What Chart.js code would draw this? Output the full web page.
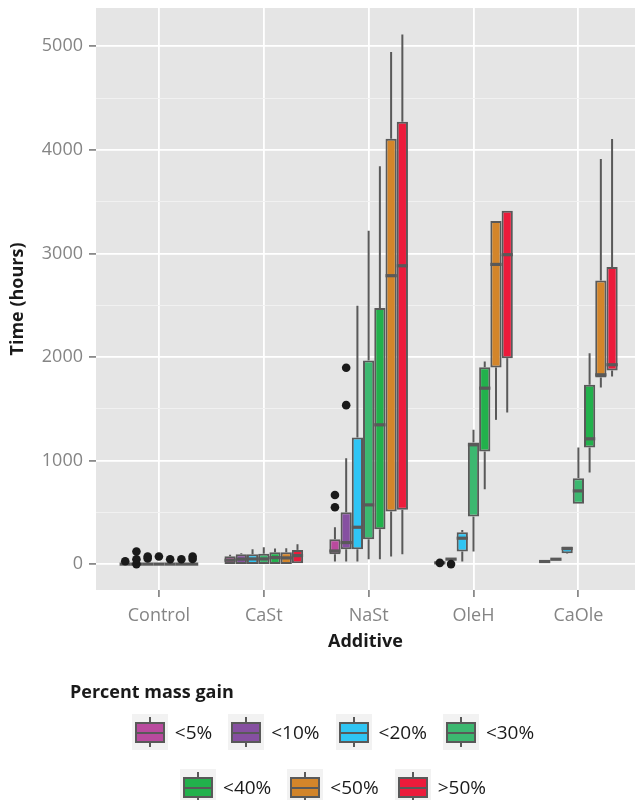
<!DOCTYPE html>
<html>
<head>
<meta charset="utf-8">
<script src="https://cdn.jsdelivr.net/npm/chart.js"></script>
<style>
  html, body { margin: 0; padding: 0; background: #fff; overflow: hidden; }
  #wrap { position: relative; width: 635px; height: 800px; font-family: "Open Sans", sans-serif; }
  #chart { position: absolute; left: 0; top: 0; }
  .legend-title { position: absolute; left: 70px; top: 679px; font-weight: 700; font-size: 18px; color: #1a1a1a; }
  .legend-row { position: absolute; left: 31px; width: 604px; display: flex; justify-content: center; gap: 16px; }
  .item { display: flex; align-items: center; }
  .key { position: relative; width: 36px; height: 36px; background: #f2f2f2; margin-right: 7px; }
  .key .whisker { position: absolute; left: 17px; top: 3px; width: 2px; height: 30px; background: #595959; }
  .key .box { position: absolute; left: 3px; top: 8px; width: 30px; height: 21px; box-sizing: border-box; border: 2px solid #595959; }
  .key .med { position: absolute; left: 3px; top: 17.5px; width: 30px; height: 2px; background: #595959; }
  .lab { font-size: 19px; color: #1a1a1a; }
</style>
</head>
<body>
<div id="wrap">
  <canvas id="chart" width="635" height="800"></canvas>
  <div class="legend-title">Percent mass gain</div>
  <div class="legend-row" id="row1" style="top:714px"></div>
  <div class="legend-row" id="row2" style="top:769px"></div>
</div>

<script>
/* ---------- DATA ---------- */
const additives = ['Control', 'CaSt', 'NaSt', 'OleH', 'CaOle'];
const massGain = ['<5%', '<10%', '<20%', '<30%', '<40%', '<50%', '>50%'];
const yTicks = [0, 1000, 2000, 3000, 4000, 5000];
const yMinorTicks = [500, 1500, 2500, 3500, 4500];

// rows follow massGain, columns follow additives (hours)
const whiskerLow = [
  [0, 0, 24, 8, 20],
  [0, 0, 24, 45, 42],
  [0, 0, 24, 24, 100],
  [0, 0, 47, 121, 582],
  [0, 0, 47, 724, 884],
  [0, 0, 73, 1393, 1706],
  [0, 9, 96, 1464, 1812]
];
const q1 = [
  [0, 2, 95, 8, 22],
  [0, 2, 144, 45, 44],
  [0, 2, 144, 121, 105],
  [0, 2, 240, 459, 582],
  [0, 2, 337, 1087, 1126],
  [0, 2, 507, 1899, 1802],
  [0, 9, 524, 1989, 1870]
];
const median = [
  [0, 38, 127, 12, 25],
  [0, 48, 208, 48, 47],
  [0, 50, 356, 250, 150],
  [0, 50, 572, 1152, 707],
  [0, 63, 1345, 1699, 1210],
  [0, 60, 2785, 2894, 1828],
  [0, 82, 2881, 2988, 1925]
];
const q3 = [
  [0, 76, 240, 18, 28],
  [0, 96, 501, 52, 50],
  [0, 96, 1222, 308, 169],
  [0, 100, 1966, 1174, 830],
  [0, 115, 2472, 1902, 1731],
  [0, 115, 4108, 3313, 2739],
  [0, 137, 4272, 3413, 2868]
];
const whiskerHigh = [
  [0, 90, 356, 18, 30],
  [0, 105, 1023, 55, 52],
  [0, 144, 2495, 330, 170],
  [0, 163, 3218, 1297, 1126],
  [0, 150, 3841, 1957, 2037],
  [0, 153, 4946, 3313, 3912],
  [0, 192, 5113, 3413, 4105]
];
const outliers = [
  [[28], [], [549, 668], [12], []],
  [[0, 47, 121], [], [1535, 1896], [0], []],
  [[55, 73], [], [], [], []],
  [[73], [], [], [], []],
  [[47], [], [], [], []],
  [[47], [], [], [], []],
  [[50, 73], [], [], [], []]
];

/* ---------- STYLE ---------- */
const boxColors = ['#b94a9e', '#8650a1', '#2fc5f4', '#3cb870', '#22b14c', '#d3852a', '#ec1b3b'];
const lineGrey = '#595959';
const tickGrey = '#858585';
const FONT = '"Open Sans", sans-serif';

Chart.defaults.font.family = FONT;

/* ---------- PLUGINS ---------- */
const panelBg = {
  id: 'panelBg',
  beforeDraw(chart) {
    const { ctx, chartArea: a } = chart;
    ctx.save();
    ctx.fillStyle = '#e5e5e5';
    ctx.fillRect(a.left, a.top, a.right - a.left, a.bottom - a.top);
    ctx.restore();
  }
};

// whiskers behind the boxes, medians and outliers on top
const boxParts = {
  id: 'boxParts',
  beforeDatasetsDraw(chart) {
    const { ctx } = chart;
    const y = chart.scales.y;
    ctx.save();
    ctx.strokeStyle = lineGrey;
    ctx.lineWidth = 2;
    massGain.forEach((g, k) => {
      chart.getDatasetMeta(k).data.forEach((bar, i) => {
        ctx.beginPath();
        ctx.moveTo(bar.x, y.getPixelForValue(whiskerLow[k][i]));
        ctx.lineTo(bar.x, y.getPixelForValue(q1[k][i]));
        ctx.moveTo(bar.x, y.getPixelForValue(q3[k][i]));
        ctx.lineTo(bar.x, y.getPixelForValue(whiskerHigh[k][i]));
        ctx.stroke();
      });
    });
    ctx.restore();
  },
  afterDatasetsDraw(chart) {
    const { ctx } = chart;
    const y = chart.scales.y;
    ctx.save();
    massGain.forEach((g, k) => {
      chart.getDatasetMeta(k).data.forEach((bar, i) => {
        const py = y.getPixelForValue(median[k][i]);
        ctx.strokeStyle = lineGrey;
        ctx.lineWidth = 3.2;
        ctx.beginPath();
        ctx.moveTo(bar.x - bar.width / 2, py);
        ctx.lineTo(bar.x + bar.width / 2, py);
        ctx.stroke();

        ctx.fillStyle = '#1a1a1a';
        outliers[k][i].forEach(v => {
          ctx.beginPath();
          ctx.arc(bar.x, y.getPixelForValue(v), 4.3, 0, Math.PI * 2);
          ctx.fill();
        });
      });
    });
    ctx.restore();
  }
};

/* ---------- CHART ---------- */
const datasets = massGain.map((g, k) => ({
  label: g,
  data: additives.map((a, i) => ({ x: i + 1, y: [q1[k][i], q3[k][i]] })),
  backgroundColor: boxColors[k],
  borderColor: lineGrey,
  borderWidth: 2,
  borderSkipped: false,
  categoryPercentage: 0.75,
  barPercentage: 1
}));

const isMajor = v => yTicks.includes(v);

new Chart(document.getElementById('chart'), {
  type: 'bar',
  data: { datasets },
  options: {
    responsive: false,
    animation: false,
    layout: { padding: { top: 8, right: 0, bottom: 140, left: 0 } },
    plugins: { legend: { display: false }, tooltip: { enabled: false } },
    scales: {
      x: {
        type: 'linear',
        min: 0.4,
        max: 5.54,
        offset: false,
        afterBuildTicks: s => { s.ticks = additives.map((a, i) => ({ value: i + 1 })); },
        afterFit: s => { s.height = 70; s.paddingLeft = 0; s.paddingRight = 0; },
        grid: { offset: false, color: '#ffffff', lineWidth: 1.8, tickColor: '#8a8a8a', tickLength: 7 },
        border: { display: false },
        ticks: {
          autoSkip: false,
          maxRotation: 0,
          padding: 8,
          color: tickGrey,
          font: { size: 18 },
          callback: v => additives[v - 1]
        },
        title: {
          display: true,
          text: 'Additive',
          color: '#1a1a1a',
          font: { size: 18, weight: 'bold' },
          padding: { top: 0, bottom: 7 }
        }
      },
      y: {
        min: -250,
        max: 5370,
        afterBuildTicks: s => {
          s.ticks = yTicks.concat(yMinorTicks).sort((a, b) => a - b).map(v => ({ value: v }));
        },
        afterFit: s => { s.width = 96; s.paddingTop = 0; s.paddingBottom = 0; },
        grid: {
          color: c => isMajor(c.tick.value) ? '#ffffff' : '#f2f2f2',
          lineWidth: c => isMajor(c.tick.value) ? 1.8 : 0.9,
          tickColor: c => isMajor(c.tick.value) ? '#8a8a8a' : 'rgba(0,0,0,0)',
          tickLength: 7
        },
        border: { display: false },
        ticks: {
          padding: 6,
          color: tickGrey,
          font: { size: 18 },
          callback: v => isMajor(v) ? String(v) : ''
        },
        title: {
          display: true,
          text: 'Time (hours)',
          color: '#1a1a1a',
          font: { size: 18, weight: 'bold' },
          padding: { top: 7, bottom: 0 }
        }
      }
    }
  },
  plugins: [panelBg, boxParts]
});

/* ---------- LEGEND ---------- */
function legendItem(k) {
  return `
    <div class="item">
      <div class="key">
        <div class="whisker"></div>
        <div class="box" style="background:${boxColors[k]}"></div>
        <div class="med"></div>
      </div>
      <span class="lab">${massGain[k].replace('<', '&lt;').replace('>', '&gt;')}</span>
    </div>`;
}
document.getElementById('row1').innerHTML = [0, 1, 2, 3].map(legendItem).join('');
document.getElementById('row2').innerHTML = [4, 5, 6].map(legendItem).join('');
</script>
</body>
</html>
